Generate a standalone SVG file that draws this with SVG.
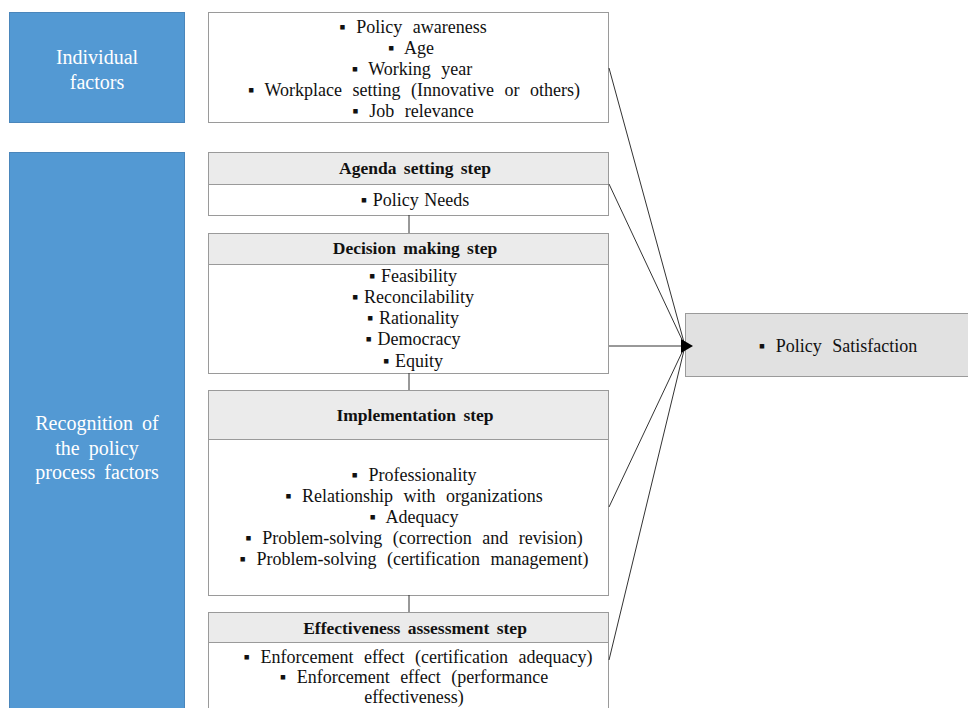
<svg xmlns="http://www.w3.org/2000/svg" width="968" height="708" viewBox="0 0 968 708">
<style>
.blue{fill:#5399d3;stroke:#4a86bb;stroke-width:1}
.box{fill:#fff;stroke:#9a9a9a;stroke-width:1}
.hdr{fill:#ebebeb;stroke:#9a9a9a;stroke-width:1}
.out{fill:#e1e1e1;stroke:#9a9a9a;stroke-width:1}
.t{font-family:"Liberation Serif","Noto Serif",serif;font-size:18px;fill:#111;text-anchor:middle;word-spacing:6px}
.n{word-spacing:1px}
.h{font-family:"Liberation Serif",serif;font-size:17.5px;font-weight:bold;fill:#111;text-anchor:middle;word-spacing:3px}
.w{font-family:"Liberation Serif",serif;font-size:20px;fill:#fff;text-anchor:middle;word-spacing:4px}
.c{stroke:#333;stroke-width:1;fill:none}
</style>

<g id="individual-factors">
<rect class="blue" x="9.5" y="12.5" width="175" height="110"/>
<text class="w" x="97" y="64">Individual</text>
<text class="w" x="97" y="89">factors</text>
</g>

<g id="recognition">
<rect class="blue" x="9.5" y="152.5" width="175" height="560"/>
<text class="w" x="97" y="430">Recognition of</text>
<text class="w" x="97" y="455">the policy</text>
<text class="w" x="97" y="479">process factors</text>
</g>

<g id="individual-items">
<rect class="box" x="208.5" y="12.5" width="400" height="110"/>
<text class="t" x="413" y="33">▪ Policy awareness</text>
<text class="t" x="411" y="54">▪ Age</text>
<text class="t" x="412" y="75">▪ Working year</text>
<text class="t" x="414" y="96">▪ Workplace setting (Innovative or others)</text>
<text class="t" x="413" y="117">▪ Job relevance</text>
</g>

<g id="agenda">
<rect class="hdr" x="208.5" y="152.5" width="400" height="32"/>
<rect class="box" x="208.5" y="184.5" width="400" height="31"/>
<text class="h" x="415" y="174">Agenda setting step</text>
<text class="t n" x="415" y="206">▪ Policy Needs</text>
</g>

<g id="decision">
<rect class="hdr" x="208.5" y="233.5" width="400" height="31"/>
<rect class="box" x="208.5" y="264.5" width="400" height="109"/>
<text class="h" x="415" y="254">Decision making step</text>
<text class="t n" x="413" y="282">▪ Feasibility</text>
<text class="t n" x="413" y="303">▪ Reconcilability</text>
<text class="t n" x="413" y="324">▪ Rationality</text>
<text class="t n" x="413" y="345">▪ Democracy</text>
<text class="t n" x="413" y="367">▪ Equity</text>
</g>

<g id="implementation">
<rect class="hdr" x="208.5" y="390.5" width="400" height="49"/>
<rect class="box" x="208.5" y="439.5" width="400" height="156"/>
<text class="h" x="415" y="421">Implementation step</text>
<text class="t" x="414" y="481">▪ Professionality</text>
<text class="t" x="414" y="502">▪ Relationship with organizations</text>
<text class="t" x="414" y="523">▪ Adequacy</text>
<text class="t" x="414" y="544">▪ Problem-solving (correction and revision)</text>
<text class="t" x="414" y="565">▪ Problem-solving (certification management)</text>
</g>

<g id="effectiveness">
<rect class="hdr" x="208.5" y="612.5" width="400" height="30"/>
<rect class="box" x="208.5" y="642.5" width="400" height="70"/>
<text class="h" x="415" y="634">Effectiveness assessment step</text>
<text class="t" x="418" y="663">▪ Enforcement effect (certification adequacy)</text>
<text class="t" x="414" y="683">▪ Enforcement effect (performance</text>
<text class="t" x="414" y="703">effectiveness)</text>
</g>

<g id="policy-satisfaction">
<rect class="out" x="685.5" y="313.5" width="290" height="63"/>
<text class="t" x="838" y="352">▪ Policy Satisfaction</text>
</g>

<g id="connectors">
<line class="c" x1="409" y1="215" x2="409" y2="233"/>
<line class="c" x1="409" y1="373" x2="409" y2="390"/>
<line class="c" x1="409" y1="595" x2="409" y2="612"/>
<line class="c" x1="609" y1="68" x2="685" y2="346"/>
<line class="c" x1="609" y1="184" x2="685" y2="346"/>
<line class="c" x1="609" y1="346" x2="685" y2="346"/>
<line class="c" x1="609" y1="507" x2="685" y2="346"/>
<line class="c" x1="609" y1="660" x2="685" y2="346"/>
<path d="M681,339 L693,346 L681,353 Z" fill="#000"/>
</g>
</svg>
